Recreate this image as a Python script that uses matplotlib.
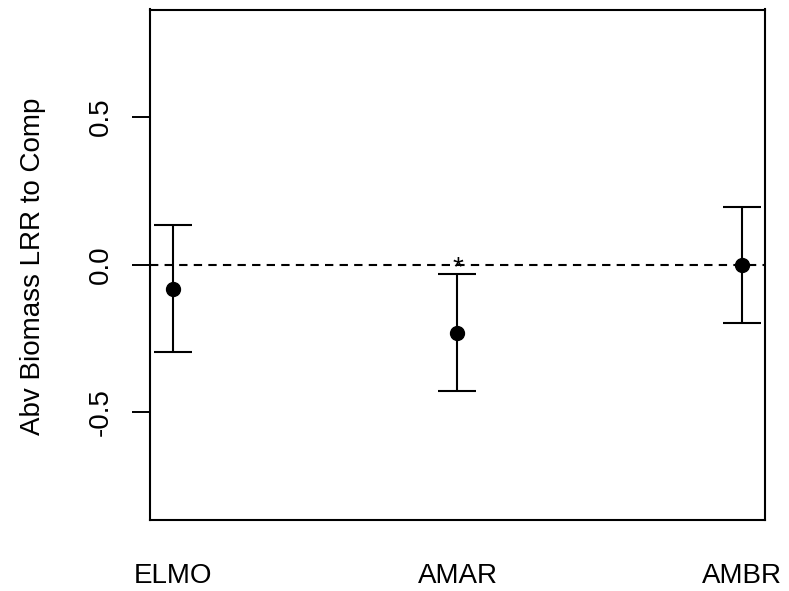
import matplotlib
matplotlib.use("Agg")
import matplotlib.pyplot as plt

# Log response ratios of above-ground biomass relative to competition
species = ["ELMO", "AMAR", "AMBR"]
lrr_mean = [-0.081, -0.231, -0.002]
lrr_upper = [0.136, -0.033, 0.196]
lrr_lower = [-0.295, -0.427, -0.197]
significant = [False, True, False]
yticks = [-0.5, 0.0, 0.5]

plt.rcParams["font.family"] = ["Liberation Sans", "DejaVu Sans"]

fig = plt.figure(figsize=(7.89, 5.91), dpi=100)
ax = fig.add_axes([150 / 789, 71 / 591, 615 / 789, 510.5 / 591])

xpos = list(range(1, len(species) + 1))
err_lo = [m - lo for m, lo in zip(lrr_mean, lrr_lower)]
err_hi = [hi - m for m, hi in zip(lrr_mean, lrr_upper)]

ax.axhline(0, color="black", linestyle=(0, (4, 3)), linewidth=1.5, zorder=1)
ax.errorbar(xpos, lrr_mean, yerr=[err_lo, err_hi], fmt="none", ecolor="black",
            elinewidth=1.5, capsize=14, capthick=1.5, zorder=2)
ax.plot(xpos, lrr_mean, "o", color="black", markersize=10, zorder=3)

for x, m, hi, sig in zip(xpos, lrr_mean, lrr_upper, significant):
    if sig:
        ax.text(x, -0.012, "*", ha="center", va="center", fontsize=20)

ax.set_xlim(0.92, 3.08)
ax.set_ylim(-0.864, 0.864)
ax.set_xticks(xpos)
ax.set_xticklabels(species, fontsize=20)
ax.tick_params(axis="x", length=0, pad=31)
ax.set_yticks(yticks)
ax.set_yticklabels([f"{v:.1f}" for v in yticks], rotation=90, va="center", fontsize=20)
ax.tick_params(axis="y", length=13, width=1.4, pad=13)
fig.text(33.5 / 789, 1 - 266 / 591, "Abv Biomass LRR to Comp", rotation=90,
         ha="center", va="center", fontsize=20)

for s in ax.spines.values():
    s.set_linewidth(1.5)

fig.savefig("out.png", dpi=100)
